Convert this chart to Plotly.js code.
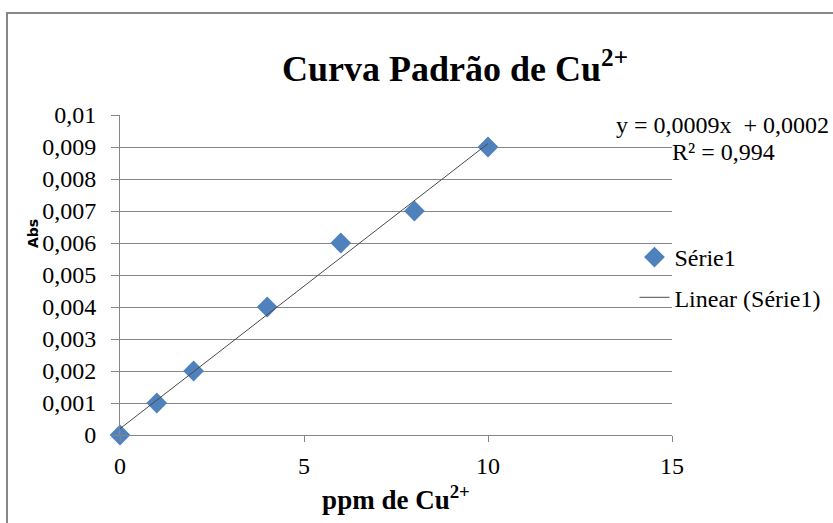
<!DOCTYPE html>
<html><head><meta charset="utf-8">
<script src="https://cdn.plot.ly/plotly-3.0.1.min.js"></script>
<style>body{margin:0;background:#fff}#c{width:833px;height:523px}</style>
</head><body><div id="c"></div>
<script>
const ppm = [0, 1, 2, 4, 6, 8, 10];
const abs = [0, 0.001, 0.002, 0.004, 0.006, 0.007, 0.009];
const yTicks = [0,0.001,0.002,0.003,0.004,0.005,0.006,0.007,0.008,0.009,0.01];
const yTickText = ['0','0,001','0,002','0,003','0,004','0,005','0,006','0,007','0,008','0,009','0,01'];
const xTicks = [0,5,10,15];

// least squares fit (Excel linear trendline)
const n = ppm.length;
const mx = ppm.reduce((a,b)=>a+b,0)/n, my = abs.reduce((a,b)=>a+b,0)/n;
let sxy=0, sxx=0, syy=0;
for (let i=0;i<n;i++){sxy+=(ppm[i]-mx)*(abs[i]-my);sxx+=(ppm[i]-mx)**2;syy+=(abs[i]-my)**2;}
const slope = sxy/sxx, icpt = my - slope*mx, r2 = sxy*sxy/(sxx*syy);
const fitX = [Math.min(...ppm), Math.max(...ppm)];
const fitY = fitX.map(x=>slope*x+icpt);
const fmt = (v,d)=>v.toFixed(d).replace('.',',');

const serif = '"Liberation Serif", "Times New Roman", serif';
const traces = [
  {x: ppm, y: abs, type:'scatter', mode:'markers', name:'Série1', legendgroup:'a', cliponaxis:false,
   marker:{symbol:'diamond', size:16, color:'#4F81BD', line:{width:0}}},
  {x: fitX, y: fitY, type:'scatter', mode:'lines', name:'Linear (Série1)', legendgroup:'b', cliponaxis:false,
   line:{color:'#4a4a4a', width:1}}
];
const layout = {
  width:833, height:523, paper_bgcolor:'#fff', plot_bgcolor:'#fff',
  margin:{l:120, r:161, t:115, b:88, autoexpand:false},
  font:{family:serif, size:24, color:'#000'},
  title:{text:'<b>Curva Padrão de Cu<sup>2+</sup></b>', font:{family:serif, size:36, color:'#000'},
         x:0.607, xanchor:'center', xref:'paper', y:1, yref:'container', yanchor:'top', pad:{t:56}},
  xaxis:{range:[0,15], tickvals:xTicks, ticks:'outside', ticklen:6, tickcolor:'#868686',
         showline:true, linecolor:'#868686', linewidth:1, showgrid:false, zeroline:false,
         tickfont:{family:serif, size:24}, ticklabelstandoff:3, fixedrange:true, automargin:false,
         title:{text:'<b>ppm de Cu<sup>2+</sup></b>', font:{family:serif, size:27}, standoff:12}},
  yaxis:{range:[0,0.01], tickvals:yTicks, ticktext:yTickText, ticks:'outside', ticklen:8, tickcolor:'#868686',
         showline:true, linecolor:'#868686', linewidth:1, showgrid:true, gridcolor:'#868686', gridwidth:1,
         zeroline:false, tickfont:{family:serif, size:24}, ticklabelstandoff:10, fixedrange:true, automargin:false},
  showlegend:true,
  legend:{x:0.932, xanchor:'left', y:0.625, yanchor:'top', bgcolor:'rgba(0,0,0,0)',
          font:{family:serif, size:24}, traceorder:'grouped', tracegroupgap:6, itemwidth:30},
  annotations:[
    {xref:'paper', yref:'paper', x:-0.1576, xanchor:'center', y:0.628, yanchor:'middle', text:'<b>Abs</b>', textangle:-90, showarrow:false,
     font:{family:'"DejaVu Sans", Arial, sans-serif', size:14, color:'#000'}},
    {xref:'paper', yref:'paper', x:1.092, xanchor:'center', y:0.969, yanchor:'middle', text:'y = ' + fmt(slope,4) + 'x  + ' + fmt(icpt,4),
     showarrow:false, font:{family:serif, size:24}},
    {xref:'paper', yref:'paper', x:1.094, xanchor:'center', y:0.884, yanchor:'middle', text:'R² = ' + fmt(r2,3),
     showarrow:false, font:{family:serif, size:24}}
  ],
  shapes:[
    {type:'rect', xref:'paper', yref:'paper', x0:-0.2047, x1:1.35, y0:-0.35, y1:1.3187,
     line:{color:'#878787', width:2}, fillcolor:'rgba(0,0,0,0)', layer:'below'}
  ]
};
Plotly.newPlot('c', traces, layout, {displayModeBar:false, staticPlot:true});
</script></body></html>
